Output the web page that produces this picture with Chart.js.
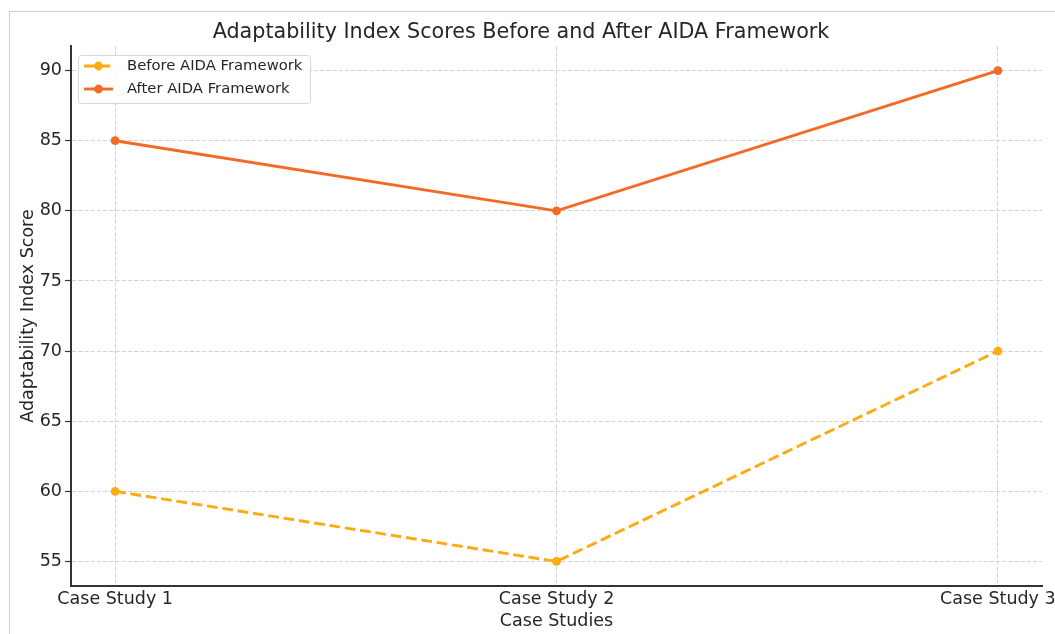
<!DOCTYPE html>
<html>
<head>
<meta charset="utf-8">
<script src="https://cdn.jsdelivr.net/npm/chart.js@4/dist/chart.umd.min.js"></script>
<style>
  html, body { margin: 0; padding: 0; background: #fff; }
  #wrap { position: relative; width: 1055px; height: 634px; overflow: hidden; }
  #frame { position: absolute; left: 9px; top: 11px; width: 1100px; height: 700px;
           border-left: 1px solid #cfcfcf; border-top: 1px solid #cfcfcf; }
  canvas { position: absolute; left: 0; top: 0; }
</style>
</head>
<body>
<div id="wrap">
  <div id="frame"></div>
  <canvas id="chart" width="1055" height="634"></canvas>
</div>
<script>
// Case studies along the x axis
const categories = ['Case Study 1', 'Case Study 2', 'Case Study 3'];
// Adaptability index scores per case study
const beforeScores = [60, 55, 70];
const afterScores = [85, 80, 90];
// Y axis tick values
const yTicks = [55, 60, 65, 70, 75, 80, 85, 90];

const FONT = "'DejaVu Sans', sans-serif";
const TEXT = '#262626';

const toPoints = arr => arr.map((v, i) => ({ x: i, y: v }));

// Legend box drawn inside the plot area, upper left
const innerLegend = {
  id: 'innerLegend',
  afterDatasetsDraw(chart) {
    const ctx = chart.ctx;
    const x0 = 78.5, y0 = 55.5, w = 232, h = 48;
    ctx.save();
    ctx.beginPath();
    ctx.roundRect(x0, y0, w, h, 3);
    ctx.fillStyle = 'rgba(255,255,255,0.85)';
    ctx.fill();
    ctx.strokeStyle = '#d6d6d6';
    ctx.lineWidth = 1;
    ctx.stroke();
    const rows = [66, 89];
    chart.data.datasets.forEach((ds, i) => {
      const y = rows[i];
      ctx.strokeStyle = ds.borderColor;
      ctx.lineWidth = ds.borderWidth;
      ctx.setLineDash(ds.borderDash || []);
      ctx.beginPath();
      ctx.moveTo(84, y);
      ctx.lineTo(113, y);
      ctx.stroke();
      ctx.setLineDash([]);
      ctx.beginPath();
      ctx.arc(98.5, y, 4.4, 0, Math.PI * 2);
      ctx.fillStyle = ds.borderColor;
      ctx.fill();
      ctx.fillStyle = TEXT;
      ctx.font = '14.8px ' + FONT;
      ctx.textBaseline = 'middle';
      ctx.textAlign = 'left';
      ctx.fillText(ds.label, 127, y);
    });
    ctx.restore();
  }
};

new Chart(document.getElementById('chart'), {
  type: 'line',
  data: {
    datasets: [
      {
        label: 'Before AIDA Framework',
        data: toPoints(beforeScores),
        borderColor: '#FDAA14',
        backgroundColor: '#FDAA14',
        borderWidth: 2.9,
        borderDash: [10.8, 4.7],
        pointRadius: 4.4,
        pointHoverRadius: 4.4,
        pointBorderWidth: 0,
        tension: 0
      },
      {
        label: 'After AIDA Framework',
        data: toPoints(afterScores),
        borderColor: '#F26A26',
        backgroundColor: '#F26A26',
        borderWidth: 2.9,
        pointRadius: 4.4,
        pointHoverRadius: 4.4,
        pointBorderWidth: 0,
        tension: 0
      }
    ]
  },
  options: {
    responsive: false,
    animation: false,
    events: [],
    layout: { padding: { left: 0, right: 13, top: 0, bottom: 0 } },
    plugins: {
      legend: { display: false },
      tooltip: { enabled: false },
      title: {
        display: true,
        text: 'Adaptability Index Scores Before and After AIDA Framework',
        color: TEXT,
        font: { family: FONT, size: 20.7, weight: 'normal' },
        padding: { top: 20.6, bottom: 0.6 }
      }
    },
    scales: {
      x: {
        type: 'linear',
        min: -0.1,
        max: 2.1,
        afterBuildTicks(scale) { scale.ticks = categories.map((c, i) => ({ value: i })); },
        afterFit(scale) { scale.height = 48; scale.paddingLeft = 0; scale.paddingRight = 0; },
        ticks: {
          color: TEXT,
          font: { family: FONT, size: 17.5 },
          padding: 3,
          maxRotation: 0,
          autoSkip: false,
          callback: v => categories[v]
        },
        grid: {
          color: '#d4d4d4',
          lineWidth: 1,
          drawTicks: false
        },
        border: { display: true, color: '#333333', width: 2, dash: [4.3, 1.9] },
        title: {
          display: true,
          text: 'Case Studies',
          color: TEXT,
          font: { family: FONT, size: 17.5 },
          padding: { top: 2.5, bottom: 2.5 }
        }
      },
      y: {
        min: 53.25,
        max: 91.75,
        afterBuildTicks(scale) { scale.ticks = yTicks.map(v => ({ value: v })); },
        afterFit(scale) { scale.width = 71; },
        ticks: {
          color: TEXT,
          font: { family: FONT, size: 17.5 },
          padding: 3
        },
        grid: {
          color: '#d4d4d4',
          lineWidth: 1,
          tickLength: 6,
          tickColor: '#333333',
          tickWidth: 1.2,
          tickBorderDash: []
        },
        border: { display: true, color: '#333333', width: 2, dash: [4.3, 1.9] },
        title: {
          display: true,
          text: 'Adaptability Index Score',
          color: TEXT,
          font: { family: FONT, size: 17.5 },
          padding: { top: 17.5, bottom: 0 }
        }
      }
    }
  },
  plugins: [innerLegend]
});
</script>
</body>
</html>
